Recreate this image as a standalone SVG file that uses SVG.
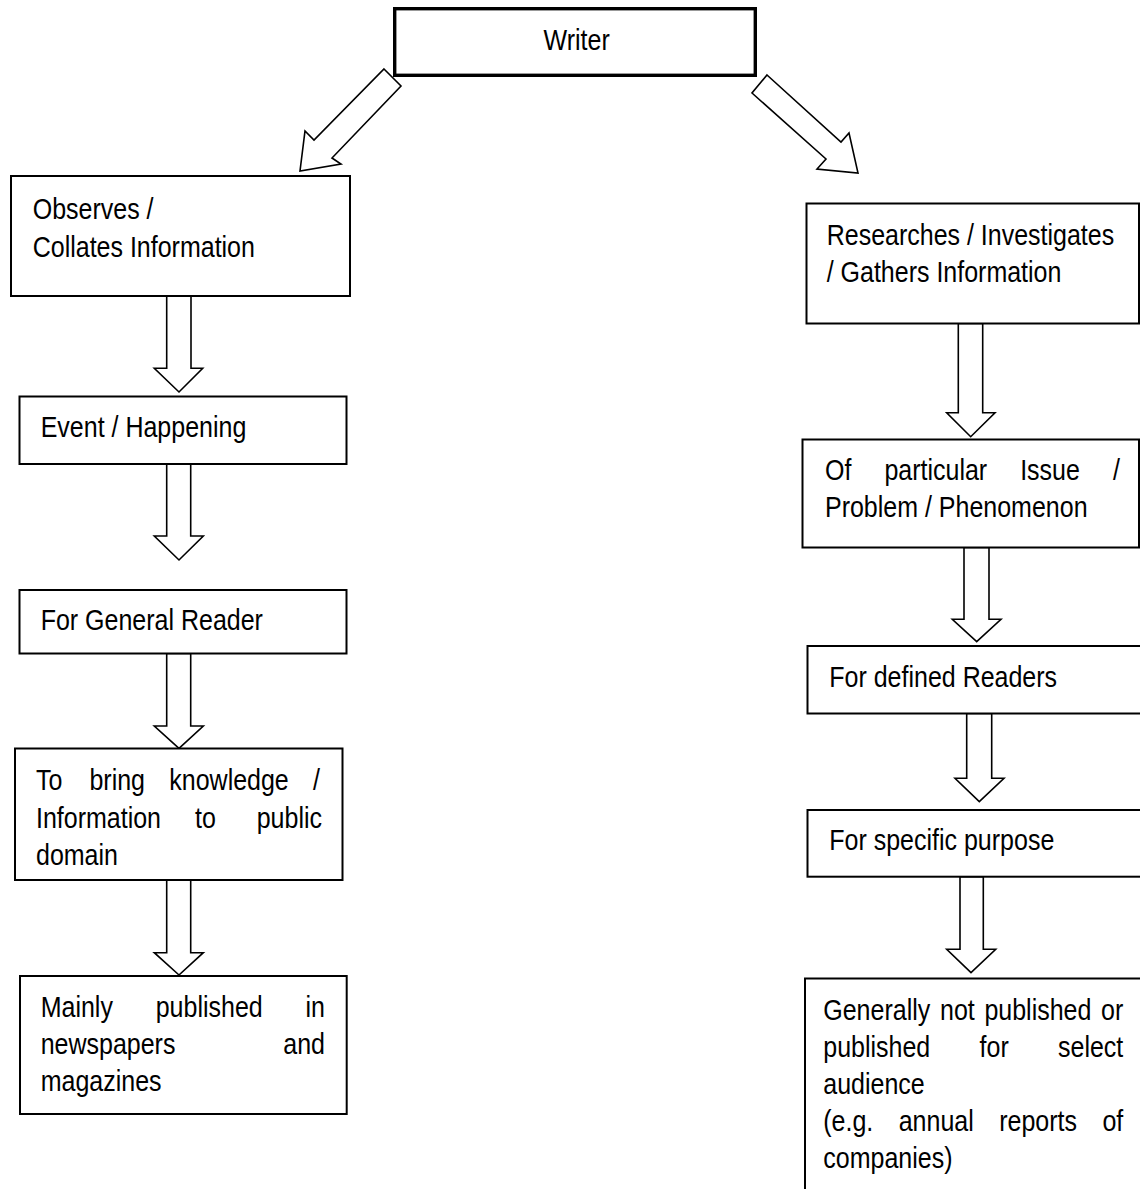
<svg xmlns="http://www.w3.org/2000/svg" width="1140" height="1189" viewBox="0 0 1140 1189">
<style>
.box{fill:#fff;stroke:#000;stroke-width:2}
.top{fill:#fff;stroke:#000;stroke-width:3.4}
.arr{fill:#fff;stroke:#000;stroke-width:1.6;stroke-linejoin:miter}
.t{font-family:"Liberation Sans",Arial,Helvetica,sans-serif;font-size:29px;fill:#000}
</style>
<rect width="1140" height="1189" fill="#fff"/>
<g id="connectors">
<polygon class="arr" points="384,69 401,86 332,158 341,164 300,171 305,131 314,140"/>
<polygon class="arr" points="767,75 841,142 849,133 858,173 817,169 826,159 752,93"/>
<polygon class="arr" points="166.7,296 166.7,368.3 154.3,368.3 179,392 202.7,368.3 191,368.3 191,296"/>
<polygon class="arr" points="166.7,464 166.7,536 154.3,536 179,560 203.3,536 190.7,536 190.7,464"/>
<polygon class="arr" points="166.7,653.5 166.7,726 154.3,726 179,748.3 203.3,726 190.7,726 190.7,653.5"/>
<polygon class="arr" points="166.7,880 166.7,952.7 154.3,952.7 179,975 203.3,952.7 190.7,952.7 190.7,880"/>
<polygon class="arr" points="958.3,323.5 958.3,412.7 946.7,412.7 970.7,436.7 995,412.7 982.7,412.7 982.7,323.5"/>
<polygon class="arr" points="964,547.5 964,619.3 952.3,619.3 976.7,641.7 1001,619.3 989,619.3 989,547.5"/>
<polygon class="arr" points="966.7,713.5 966.7,778.3 955,778.3 979.3,801.7 1004,778.3 991.7,778.3 991.7,713.5"/>
<polygon class="arr" points="960,876.7 960,949.3 946.7,949.3 971,972.7 995.7,949.3 983.3,949.3 983.3,876.7"/>
</g>
<g id="writer">
<rect class="top" x="394.7" y="8.7" width="360.6" height="66.6"/>
<text class="t" transform="scale(0.862 1)" x="669" y="50.5" text-anchor="middle">Writer</text>
</g>
<g id="observes">
<rect class="box" x="11" y="176" width="339" height="120"/>
<g class="t" transform="scale(0.862 1)">
<text x="37.94" y="219.3">Observes /</text>
<text x="37.94" y="256.7">Collates Information</text>
</g>
</g>
<g id="event">
<rect class="box" x="19.5" y="396.5" width="327" height="67.5"/>
<text class="t" transform="scale(0.862 1)" x="47.22" y="436.7">Event / Happening</text>
</g>
<g id="general-reader">
<rect class="box" x="19.5" y="590" width="327" height="63.5"/>
<text class="t" transform="scale(0.862 1)" x="47.22" y="630">For General Reader</text>
</g>
<g id="knowledge">
<rect class="box" x="15" y="748.5" width="327.5" height="131.5"/>
<g class="t" transform="scale(0.862 1)">
<text y="790"><tspan x="41.76">To</tspan><tspan x="103.77">bring</tspan><tspan x="196.4">knowledge</tspan><tspan x="363.17">/</tspan></text>
<text y="828"><tspan x="41.76">Information</tspan><tspan x="226.22">to</tspan><tspan x="297.8">public</tspan></text>
<text x="41.76" y="865">domain</text>
</g>
</g>
<g id="newspapers">
<rect class="box" x="20" y="976" width="326.7" height="138"/>
<g class="t" transform="scale(0.862 1)">
<text y="1017"><tspan x="47.22">Mainly</tspan><tspan x="180.63">published</tspan><tspan x="354.41">in</tspan></text>
<text y="1054"><tspan x="47.22">newspapers</tspan><tspan x="328.65">and</tspan></text>
<text x="47.22" y="1091">magazines</text>
</g>
</g>
<g id="researches">
<rect class="box" x="806.5" y="203.5" width="332.5" height="120"/>
<g class="t" transform="scale(0.862 1)">
<text x="959.05" y="245">Researches / Investigates</text>
<text x="959.05" y="281.7">/ Gathers Information</text>
</g>
</g>
<g id="issue">
<rect class="box" x="802.5" y="439.5" width="336.5" height="108"/>
<g class="t" transform="scale(0.862 1)">
<text y="480"><tspan x="957.07">Of</tspan><tspan x="1026">particular</tspan><tspan x="1183.5">Issue</tspan><tspan x="1291.2">/</tspan></text>
<text x="957.07" y="516.7">Problem / Phenomenon</text>
</g>
</g>
<g id="defined-readers">
<rect class="box" x="807.5" y="646" width="340" height="67.5"/>
<text class="t" transform="scale(0.862 1)" x="962.06" y="686.7">For defined Readers</text>
</g>
<g id="specific-purpose">
<rect class="box" x="807.5" y="810" width="340" height="66.7"/>
<text class="t" transform="scale(0.862 1)" x="962.06" y="850">For specific purpose</text>
</g>
<g id="not-published">
<rect class="box" x="805" y="978.5" width="345" height="230"/>
<g class="t" transform="scale(0.862 1)">
<text y="1020"><tspan x="955.1">Generally</tspan><tspan x="1090.5">not</tspan><tspan x="1142">published</tspan><tspan x="1277.4">or</tspan></text>
<text y="1057"><tspan x="955.1">published</tspan><tspan x="1136.4">for</tspan><tspan x="1227.4">select</tspan></text>
<text x="955.1" y="1094">audience</text>
<text y="1131"><tspan x="955.1">(e.g.</tspan><tspan x="1042.6">annual</tspan><tspan x="1159.2">reports</tspan><tspan x="1278.9">of</tspan></text>
<text x="955.1" y="1168">companies)</text>
</g>
</g>
</svg>
